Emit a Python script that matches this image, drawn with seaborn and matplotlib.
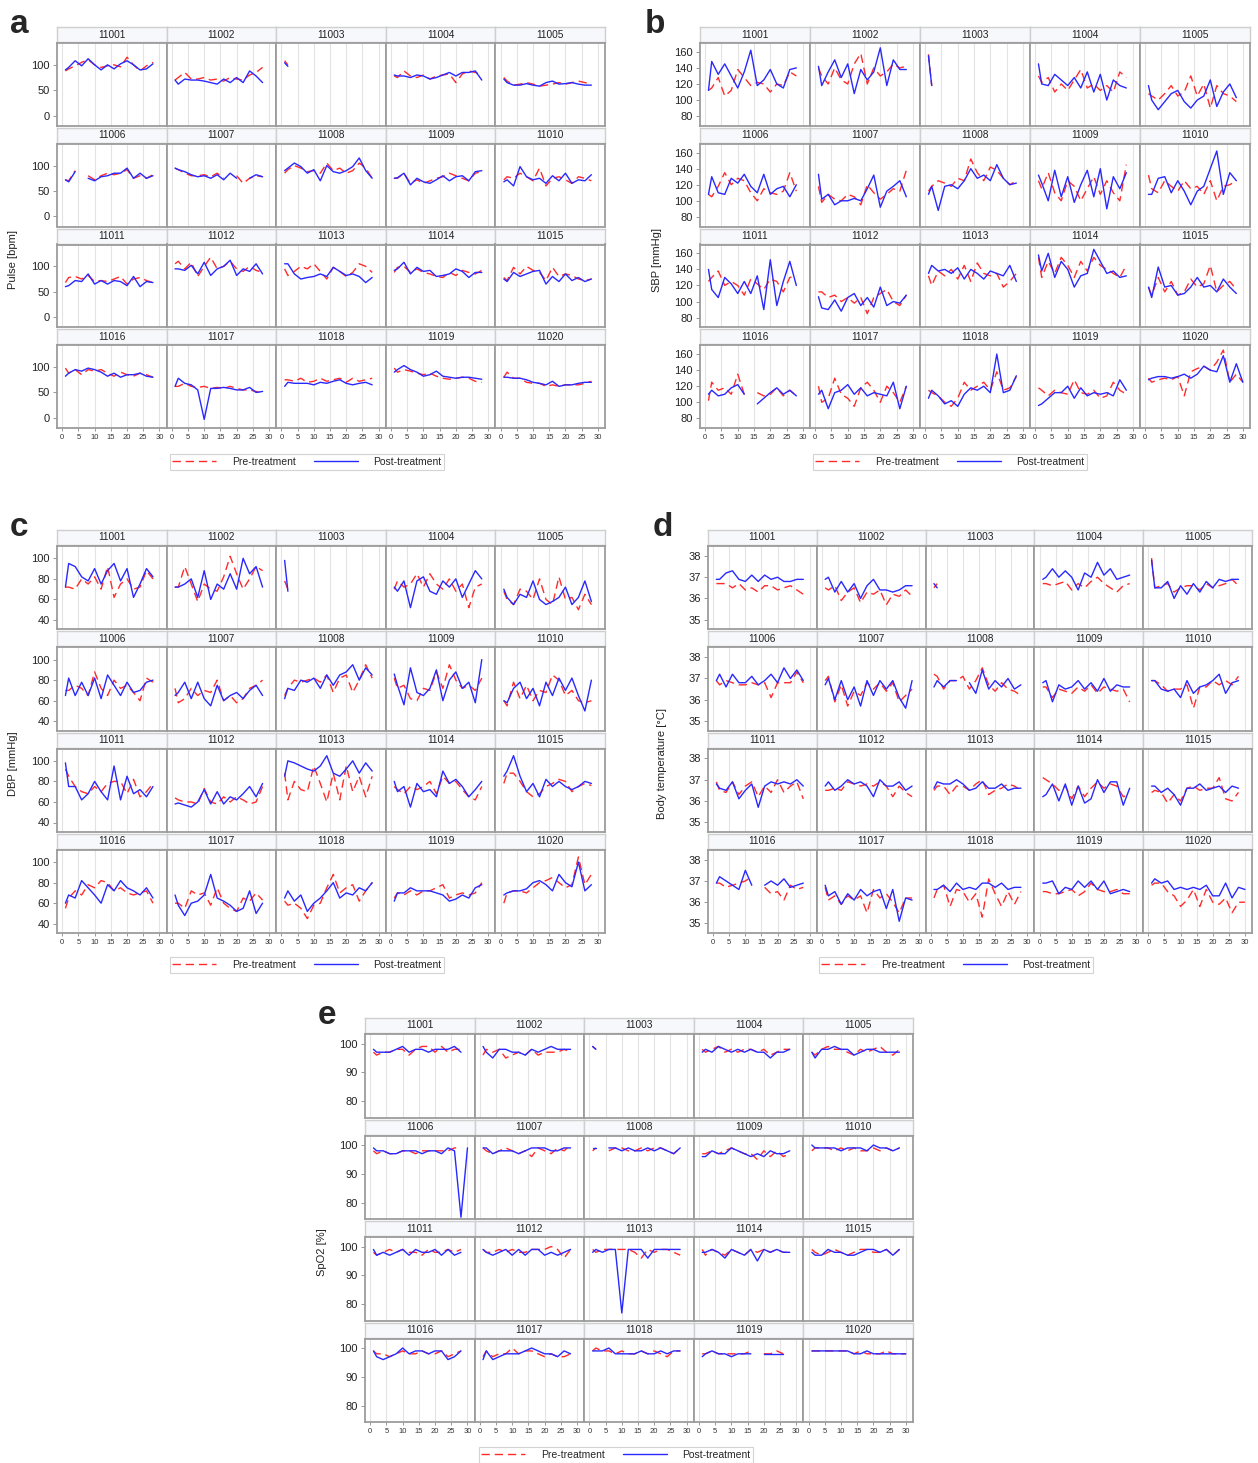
import matplotlib
matplotlib.use("Agg")
import numpy as np
import pandas as pd
import matplotlib.pyplot as plt
from matplotlib.lines import Line2D
import seaborn as sns

SUBJECTS = [str(s) for s in range(11001, 11021)]
# measurement days; a series uses the first len(values) of them
DAYS = [1, 2, 4, 6, 8, 10, 12, 14, 16, 18, 20, 22, 24, 26, 28, 30]
N = None

pulse_pre = [
    [88, 92, 98, 105, 110, 100, 95, 98, 100, 96, 115, 100, 88, 98, 105],
    [70, 75, 85, 72, 72, 75, 70, 72, 68, 75, 72, 70, 80, 85, 95],
    [108, 100],
    [78, 75, 88, 78, 75, 80, 72, 78, 80, 82, 65, 82, 88, 85, 80],
    [75, 68, 60, 62, 65, 62, 58, 60, 62, 65, 62, 65, 68, 65, 62],
    [72, 70, 90, N, 80, 72, 80, 85, 82, 85, 92, 75, 80, 75, 82],
    [95, 92, 85, 80, 80, 82, 78, 85, 75, N, 80, 65, 75, 80, 78],
    [85, 92, 100, 95, 88, 90, 85, 105, 90, 95, 85, 90, 105, 95, 75],
    [75, 75, 85, 65, 72, 65, 70, 75, 78, 85, 80, 75, 70, 85, 88],
    [72, 78, 75, 85, 78, 70, 95, 60, 75, 78, 72, 65, 78, 75, 70],
    [68, 78, 80, 75, 82, 70, 72, 70, 75, 80, 65, 75, 78, 72, 68],
    [105, 110, 95, 108, 80, 100, 118, 95, 100, 110, 95, 90, 100, 92, 88],
    [95, 82, 90, 100, 95, 105, 90, 75, 98, 90, 80, 88, 105, 100, 88],
    [88, 98, 100, 88, 95, 88, 85, 80, 78, 88, 82, 92, 88, 85, 92],
    [78, 72, 98, 85, 100, 92, 88, 72, 98, 80, 85, 82, 75, 72, 75],
    [98, 88, 95, 85, 95, 92, 95, 88, 82, 90, 85, 82, 88, 85, 80],
    [62, 62, 68, 62, 60, 62, 58, 60, 58, 62, 58, 55, 55, 52, 48],
    [75, 75, 72, 78, 70, 72, 78, 72, 75, 78, 70, 78, 72, 75, 78],
    [98, 90, 95, 92, 88, 85, 88, 82, 78, 76, 78, 80, 78, 72, 70],
    [80, 90, 78, 78, 70, 68, 68, 62, 65, 62, 65, 65, 65, 68, 72],
]
pulse_post = [
    [90, 95, 108, 98, 112, 100, 90, 100, 92, 102, 108, 100, 90, 92, 102],
    [70, 62, 72, 70, 70, 68, 65, 62, 72, 65, 75, 65, 88, 78, 65],
    [104, 97],
    [80, 78, 78, 75, 80, 78, 72, 75, 80, 85, 78, 85, 85, 88, 70],
    [72, 65, 60, 60, 63, 60, 58, 65, 68, 62, 63, 65, 62, 60, 60],
    [72, 68, 88, N, 75, 70, 78, 80, 85, 85, 95, 75, 85, 75, 80],
    [95, 92, 88, 82, 78, 80, 75, 82, 72, 85, 75, N, 75, 82, 78],
    [90, 95, 105, 98, 85, 92, 70, 100, 88, 85, 90, 98, 115, 90, 75],
    [75, 76, 85, 62, 75, 68, 65, 72, 80, 70, 78, 80, 70, 88, 90],
    [68, 72, 60, 98, 78, 72, 75, 65, 80, 70, 85, 65, 72, 70, 82],
    [60, 62, 72, 70, 85, 65, 72, 65, 72, 70, 62, 80, 60, 70, 68],
    [95, 95, 92, 102, 85, 108, 82, 95, 100, 112, 82, 95, 90, 105, 85],
    [105, 105, 85, 75, 78, 80, 85, 80, 98, 90, 82, 85, 80, 68, 78],
    [92, 95, 108, 85, 98, 90, 92, 80, 82, 85, 95, 90, 78, 88, 88],
    [75, 70, 88, 80, 85, 90, 92, 65, 80, 70, 85, 72, 78, 70, 75],
    [82, 88, 95, 92, 98, 95, 90, 82, 88, 80, 85, 85, 88, 82, 80],
    [62, 78, 68, 65, 55, -3, 58, 58, 60, 58, 55, 55, 60, 50, 52],
    [62, 70, 68, 68, 68, 65, 70, 68, 72, 75, 68, 65, 68, 70, 65],
    [90, 95, 103, 95, 90, 82, 85, 92, 82, 80, 78, 80, 80, 78, 76],
    [80, 80, 78, 78, 75, 70, 68, 65, 72, 62, 65, 65, 68, 70, 70],
]

sbp_pre = [
    [112, 115, 128, 105, 112, 138, 128, 118, 122, 120, 110, 120, 118, 135, 130],
    [140, 130, 120, 140, 125, 120, 145, 158, 120, 140, 130, 135, 145, 140, 142],
    [157, 118],
    [130, 122, 128, 110, 120, 112, 125, 138, 115, 120, 112, 118, 110, 135, 128],
    [108, 105, 100, 108, 118, 105, 110, 130, 105, 120, 90, 118, 108, 105, 98],
    [108, 105, 118, 135, 120, 128, 125, 110, 100, 115, 110, 108, 112, 135, 112],
    [118, 98, 108, 102, 100, 108, 105, 95, 120, 110, 102, 108, 115, 112, 138],
    [112, 118, 125, 122, 118, 128, 125, 152, 135, 125, 142, 138, 128, 120, 125],
    [125, 115, 135, 110, 100, 125, 118, 100, 115, 130, 108, 125, 110, 100, 145],
    [132, 115, 110, 125, 118, 112, 125, 115, 118, 108, 125, 100, 118, 120, 125],
    [125, 130, 138, 120, 125, 120, 108, 128, 122, 115, 128, 125, 112, 130, 132],
    [112, 112, 105, 108, 100, 105, 98, 105, 85, 105, 110, 115, 100, 95, 108],
    [132, 120, 138, 132, 140, 128, 145, 125, 148, 135, 132, 135, 118, 125, 135],
    [155, 130, 150, 135, 155, 145, 130, 150, 138, 155, 145, 140, 135, 130, 145],
    [118, 108, 130, 112, 125, 108, 112, 128, 118, 122, 145, 112, 120, 125, 115],
    [102, 125, 115, 118, 110, 135, 110, N, 112, 108, 110, 118, 108, 115, 108],
    [120, 100, 105, 130, 110, 105, 95, 118, 125, 115, 100, 120, 112, 100, 120],
    [115, 112, 108, 100, 95, 105, 125, 115, 120, 125, 115, 138, 115, 118, 132],
    [118, 115, 108, 115, 112, 110, 128, 112, 110, 115, 105, 108, 125, 115, 110],
    [130, 125, 128, 130, 128, 132, 108, 138, 142, 145, 140, 150, 165, 125, 135, 125],
]
sbp_post = [
    [112, 148, 132, 145, 130, 115, 135, 162, 118, 125, 138, 120, 115, 138, 140],
    [142, 118, 135, 150, 128, 145, 108, 138, 125, 135, 165, 118, 150, 138, 138],
    [155, 118],
    [145, 120, 118, 132, 125, 118, 128, 115, 135, 110, 132, 100, 125, 118, 115],
    [118, 100, 88, 98, 108, 112, 98, 90, 100, 105, 125, 92, 110, 120, 103],
    [108, 130, 110, 108, 128, 122, 133, 118, 110, 133, 108, 115, 118, 105, 120],
    [133, 102, 108, 95, 100, 100, 103, 100, 115, 132, 92, 112, 118, 125, 105],
    [108, 118, 88, 118, 120, 115, 125, 140, 128, 132, 125, 145, 128, 120, 122],
    [132, 122, 100, 138, 105, 130, 98, 120, 138, 105, 140, 90, 130, 115, 135],
    [108, 108, 128, 130, 110, 125, 112, 95, 112, 118, 140, 162, 108, 135, 125],
    [140, 115, 105, 130, 122, 110, 125, 110, 132, 90, 152, 95, 125, 150, 120],
    [106, 92, 90, 102, 88, 105, 110, 95, 105, 93, 118, 95, 100, 98, 108],
    [135, 145, 138, 140, 135, 142, 128, 140, 135, 128, 138, 135, 132, 145, 125],
    [158, 138, 160, 130, 150, 140, 118, 132, 135, 165, 150, 135, 138, 130, 132],
    [118, 105, 143, 118, 120, 108, 110, 118, 130, 118, 120, 112, 128, 118, 110],
    [110, 115, 108, 110, 118, 122, 110, N, 98, 105, 112, 118, 110, 115, 108],
    [110, 115, 92, 112, 115, 122, 110, 118, 108, 112, 110, 108, 125, 92, 120],
    [105, 115, 108, 98, 102, 95, 110, 118, 115, 120, 112, 160, 112, 115, 133],
    [96, 98, 105, 112, 112, 120, 105, 118, 108, 112, 110, 112, 108, 128, 115],
    [128, 130, 132, 132, 130, 132, 135, 130, 135, 145, 140, 138, 158, 125, 148, 125],
]

dbp_pre = [
    [72, 72, 70, 80, 75, 82, 70, 92, 62, 75, 80, 70, 72, 88, 80],
    [72, 72, 92, 75, 58, 75, 70, 68, 82, 102, 85, 70, 80, 92, 88],
    [78, 70],
    [70, 78, 72, 75, 85, 72, 85, 75, 70, 80, 68, 75, 52, 72, 75],
    [68, 60, 55, 70, 68, 60, 80, 60, 55, 82, 60, 62, 50, 65, 55],
    [70, 70, 75, 72, 65, 88, 72, 65, 80, 72, 75, 68, 60, 82, 78],
    [72, 58, 62, 72, 65, 70, 68, 80, 60, 65, 58, 62, 72, 75, 80],
    [65, 72, 80, 78, 80, 82, 78, 85, 68, 82, 85, 68, 80, 95, 82],
    [82, 72, 75, 62, 60, 72, 70, 88, 72, 95, 80, 72, 75, 70, 82],
    [60, 55, 78, 62, 75, 60, 70, 68, 85, 80, 65, 70, 60, 58, 60],
    [92, 85, 75, 70, 68, 75, 70, 78, 80, 80, 68, 82, 65, 70, 78],
    [64, 62, 60, 60, 58, 73, 60, 58, 65, 60, 65, 62, 58, 60, 75],
    [88, 62, 80, 72, 70, 95, 78, 60, 88, 62, 95, 70, 85, 65, 85],
    [75, 72, 68, 75, 72, 75, 80, 68, 85, 78, 80, 72, 65, 62, 75],
    [78, 88, 88, 80, 70, 65, 68, 75, 78, 82, 80, 70, 75, 78, 76],
    [55, 65, 72, 68, 78, 75, 82, 80, 72, 75, 70, 68, 70, 72, 60],
    [60, 60, 55, 72, 68, 70, 58, 75, 60, 55, 52, 65, 62, 70, 63],
    [62, 58, 60, 55, 45, 58, 60, 75, 88, 70, 75, 78, 62, 72, 80],
    [65, 70, 68, 72, 68, 72, 72, 75, 78, 65, 68, 70, 68, 70, 80],
    [60, 70, 72, 72, 70, 75, 80, 82, 85, 80, 75, 78, 105, 78, 88],
]
dbp_post = [
    [72, 95, 92, 82, 78, 90, 75, 88, 95, 78, 90, 62, 75, 90, 82],
    [72, 72, 75, 80, 62, 88, 60, 75, 70, 85, 70, 100, 85, 92, 72],
    [98, 68],
    [72, 68, 78, 52, 78, 82, 68, 65, 78, 72, 80, 62, 75, 88, 80],
    [70, 62, 55, 65, 62, 78, 60, 55, 58, 62, 72, 55, 62, 78, 58],
    [65, 82, 65, 78, 65, 82, 62, 85, 75, 65, 78, 68, 70, 78, 80],
    [65, 68, 78, 62, 78, 62, 55, 75, 60, 65, 68, 62, 70, 75, 65],
    [62, 72, 70, 80, 78, 82, 72, 85, 75, 85, 88, 95, 80, 92, 85],
    [86, 75, 56, 92, 68, 65, 72, 90, 60, 80, 88, 72, 78, 58, 100],
    [60, 58, 72, 78, 62, 72, 55, 78, 65, 82, 70, 82, 65, 50, 80],
    [98, 75, 75, 62, 68, 80, 70, 62, 95, 62, 85, 68, 72, 65, 75],
    [58, 59, 57, 55, 60, 72, 58, 70, 58, 65, 62, 68, 75, 65, 78],
    [85, 100, 98, 95, 92, 90, 95, 105, 88, 85, 92, 100, 88, 98, 90],
    [80, 70, 75, 55, 78, 70, 72, 65, 90, 78, 82, 75, 65, 72, 80],
    [85, 90, 105, 85, 70, 78, 65, 82, 75, 80, 75, 72, 75, 80, 78],
    [60, 68, 65, 82, 75, 68, 60, 78, 72, 82, 75, 72, 68, 75, 65],
    [68, 58, 48, 60, 62, 68, 88, 65, 62, 58, 52, 55, 72, 50, 60],
    [65, 72, 62, 68, 52, 60, 65, 72, 80, 65, 70, 68, 75, 72, 80],
    [62, 70, 70, 75, 72, 72, 72, 70, 68, 62, 64, 68, 65, 75, 78],
    [68, 70, 72, 72, 74, 80, 82, 78, 72, 88, 80, 76, 100, 72, 78],
]

temp_pre = [
    [36.7, 36.7, 36.7, 36.5, 36.7, 36.4, 36.5, 36.3, 36.6, 36.6, 36.4, 36.5, 36.6, 36.4, 36.2],
    [36.5, 36.4, 36.6, 35.9, 36.3, 36.5, 35.8, 36.3, 36.2, 36.4, 35.7, 36.2, 36.1, 36.4, 36.1],
    [36.5, 36.7],
    [36.7, 36.7, 36.6, 36.7, 36.8, 36.4, 36.7, 36.5, 36.8, 37.0, 36.7, 36.5, 36.3, 36.6, 36.7],
    [37.9, 36.5, 36.6, 36.7, 36.3, 36.5, 36.6, 36.6, 36.4, 36.7, 36.5, 36.6, 36.7, 36.9, 36.6],
    [36.9, 36.7, 36.9, 36.8, 36.7, 36.7, 36.8, 36.7, 36.8, 36.1, 36.8, 36.8, 36.8, 37.3, 36.8],
    [36.9, 37.1, 35.9, 36.7, 35.7, 36.4, 36.2, 36.8, 36.5, 36.8, 36.4, 36.8, 35.9, 36.2, 36.5],
    [37.2, 37.1, 36.5, 36.9, 36.9, 37.1, 36.5, 36.9, 37.5, 36.7, 36.4, 36.8, 36.5, 36.4, 36.2],
    [36.6, 36.6, 36.1, 36.5, 36.4, 36.3, 36.6, 36.4, 36.7, 36.3, 36.6, 36.5, 36.4, 36.5, 35.9],
    [36.9, 36.9, 36.7, 36.4, 36.5, 36.5, 36.7, 35.6, 36.6, 36.6, 36.9, 36.7, 36.9, 36.7, 37.1],
    [36.9, 36.5, 36.4, 36.9, 36.3, 36.7, 36.9, 36.2, 36.7, 36.4, 37.0, 36.4, 36.7, 36.9, 36.1],
    [36.5, 36.5, 36.6, 36.5, 36.9, 36.8, 36.7, 36.8, 36.7, 36.9, 36.7, 36.2, 36.7, 36.4, 36.2],
    [36.5, 36.7, 36.7, 36.3, 36.7, 36.7, 36.5, 36.8, 37.0, 36.3, 36.5, 36.6, 36.8, 36.7, 36.5],
    [37.1, 37.0, 36.8, 36.5, 36.7, 36.1, 36.7, 36.2, 36.6, 36.9, 36.6, 36.8, 36.7, 36.2, 36.3],
    [36.4, 36.5, 36.4, 35.9, 36.3, 36.0, 36.6, 36.7, 36.5, 36.6, 36.6, 37.1, 36.1, 36.0, 36.4],
    [36.9, 36.9, 36.7, 36.8, 36.9, 37.0, 37.2, N, 36.7, 36.4, 36.5, 36.1, 36.8, 36.6, 36.7],
    [36.7, 36.1, 36.3, 35.9, 36.3, 36.1, 36.3, 35.5, 36.6, 36.2, 36.4, 36.0, 35.5, 36.2, 36.2],
    [36.2, 36.6, 36.8, 35.8, 36.6, 36.5, 36.0, 36.4, 35.3, 37.1, 36.4, 35.8, 36.5, 35.9, 36.5],
    [36.5, 36.5, 36.4, 36.4, 36.5, 36.6, 36.3, 36.5, 36.9, 36.6, 36.5, 36.5, 36.6, 36.4, 36.4],
    [36.8, 36.9, 36.9, 36.5, 36.3, 35.8, 36.1, 36.6, 35.8, 36.6, 36.0, 35.9, 36.2, 35.5, 36.0, 36.0],
]
temp_post = [
    [36.9, 36.9, 37.2, 37.3, 36.9, 36.8, 37.1, 36.8, 37.1, 36.9, 37.0, 36.8, 36.8, 36.9, 36.9],
    [36.9, 37.0, 36.3, 36.8, 36.3, 36.7, 36.0, 36.6, 36.9, 36.4, 36.4, 36.3, 36.4, 36.6, 36.6],
    [36.7, 36.5],
    [36.9, 37.0, 37.4, 37.0, 37.3, 37.0, 36.4, 37.2, 37.0, 37.7, 37.1, 37.4, 36.9, 37.0, 37.1],
    [37.8, 36.5, 36.5, 36.8, 36.0, 36.6, 36.2, 36.7, 36.3, 36.8, 36.5, 36.9, 36.8, 36.9, 36.9],
    [36.9, 37.2, 36.6, 37.2, 36.8, 36.8, 37.1, 36.7, 36.9, 37.2, 36.8, 37.5, 37.0, 37.4, 36.9],
    [36.7, 37.0, 36.0, 36.9, 36.0, 36.6, 35.7, 36.9, 36.2, 36.9, 36.5, 36.9, 36.1, 35.6, 36.9],
    [36.6, 36.9, 36.6, 36.9, 36.9, N, 36.8, 36.3, 37.4, 36.5, 36.9, 36.6, 37.0, 36.5, 36.7],
    [36.8, 36.9, 35.9, 36.7, 36.5, 36.6, 36.9, 36.5, 36.8, 36.4, 37.0, 36.4, 36.7, 36.6, 36.6],
    [36.9, 36.9, 36.5, 36.4, 36.5, 36.1, 36.9, 36.3, 36.6, 36.7, 36.9, 37.2, 36.3, 36.8, 36.9],
    [36.8, 36.6, 36.5, 36.9, 36.1, 36.5, 36.8, 35.7, 36.7, 36.9, 36.8, 36.9, 36.8, 37.0, 36.7],
    [36.7, 36.9, 36.5, 36.7, 37.0, 36.8, 36.9, 36.7, 36.2, 37.0, 36.7, 36.7, 36.9, 36.5, 36.7],
    [36.6, 36.9, 36.8, 36.8, 37.0, 36.8, 36.5, 36.6, 36.9, 36.6, 36.6, 36.8, 36.5, 36.6, 36.6],
    [36.2, 36.3, 36.8, 36.0, 36.8, 35.8, 36.7, 35.9, 36.1, 37.0, 36.4, 36.9, 36.9, 35.8, 36.6],
    [36.7, 36.7, 36.4, 36.6, 36.3, 35.8, 36.6, 36.6, 36.8, 36.5, 36.6, 36.7, 36.4, 36.7, 36.6],
    [36.9, 37.2, 37.0, 36.8, 36.6, 37.5, 36.8, N, 36.8, 37.0, 36.8, 37.1, 36.7, 36.8, 36.9],
    [36.8, 36.3, 36.5, 35.9, 36.4, 36.1, 36.6, 36.3, 36.5, 36.6, 35.7, 36.6, 35.1, 36.2, 36.1],
    [36.6, 36.6, 36.8, 36.5, 36.9, 36.6, 36.7, 36.6, 36.9, 36.9, 36.7, 36.9, 36.6, 36.7, 36.7],
    [36.9, 36.9, 37.0, 36.4, 36.7, 36.6, 37.0, 36.7, 37.0, 36.6, 37.0, 36.4, 36.5, 36.6, 36.5],
    [36.9, 37.1, 36.9, 37.0, 36.6, 36.7, 36.6, 36.7, 36.6, 36.8, 36.3, 36.3, 36.9, 36.2, 36.7, 36.6],
]

spo2_pre = [
    [97, 96, 97, 97, 98, 98, 96, 98, 99, 99, 97, 99, 97, 98, 98],
    [96, 98, 97, 98, 95, 96, 97, 96, 98, 96, 97, 97, 97, 98, 97],
    [99, 98],
    [98, 97, 98, 99, 97, 98, 97, 98, 98, 97, 98, 96, 97, 98, 98],
    [97, 96, 98, 99, 98, 98, 97, 96, 98, 97, 98, 99, 97, 96, 98],
    [98, 97, 98, 97, 97, 98, 98, 97, 98, 98, 98, 98, 98, 99, 99],
    [99, 98, 97, 98, 99, 98, 97, 98, 96, 99, 98, 97, 99, 98, 100],
    [98, 99, N, 98, 99, 99, 98, 98, 99, 98, 99, 99, 98, 97, 99],
    [97, 97, 98, 97, 98, 99, 98, 97, 97, 95, 98, 96, 98, 96, 97],
    [98, 99, 99, 99, 98, 99, 98, 99, 98, 98, 99, 98, 99, 98, 99],
    [98, 97, 98, 99, 98, 99, 98, 98, 97, 99, 98, 98, 99, 98, 99],
    [99, 98, 98, 99, 98, 99, 98, 98, 99, 99, 99, 100, 99, 96, 99],
    [99, 98, 99, 99, 99, 99, 99, 98, 96, 99, 98, 99, 99, 98, 97],
    [99, 97, 99, 98, 97, 99, 98, 97, 99, 98, 99, 98, 99, 98, 98],
    [99, 98, 97, 98, 99, 98, 97, 98, 99, 99, 98, 98, 99, 97, 99],
    [99, 98, 98, 97, 98, 99, 98, 98, 99, 98, 98, 99, 97, 98, 99],
    [97, 99, 97, 98, 98, 100, 98, 99, 99, 98, 97, 98, 97, 97, 98],
    [99, 100, 99, 99, 98, 99, 98, 98, 99, 98, 99, 98, 97, 99, 99],
    [98, 98, 99, 98, 98, 98, 98, 98, 99, N, 98, 98, 99, 98],
    [99, 99, 99, 99, 99, 99, 99, 98, 99, 98, 98, 98, 99, 98, 98, 98],
]
spo2_post = [
    [98, 97, 97, 97, 98, 99, 97, 98, 98, 97, 98, 98, 98, 99, 97],
    [99, 97, 95, 98, 98, 97, 97, 96, 98, 97, 98, 99, 98, 98, 98],
    [99, 98],
    [97, 98, 97, 99, 98, 97, 98, 97, 98, 97, 97, 95, 97, 97, 98],
    [97, 95, 98, 98, 99, 98, 98, 96, 97, 98, 98, 97, 97, 97, 97],
    [99, 98, 98, 97, 97, 98, 98, 98, 97, 98, 98, 97, 99, 98, 75, 99],
    [99, 99, 97, 98, 98, 98, 97, 98, 99, 99, 99, 98, 98, 99, 99],
    [99, 99, N, 99, 99, 98, 99, 98, 98, 99, 98, 99, 98, 97, 99],
    [96, 96, 98, 97, 97, 99, 98, 97, 96, 97, 96, 98, 97, 97, 98],
    [100, 99, 99, 99, 99, 98, 99, 99, 99, 98, 100, 99, 99, 98, 99],
    [99, 97, 98, 97, 98, 99, 97, 99, 98, 98, 99, 97, 99, 97, 98],
    [99, 98, 97, 98, 99, 97, 99, 97, 99, 99, 97, 98, 97, 98, 99],
    [98, 99, 98, 99, 99, 77, 99, 99, 99, 96, 99, 99, 99, 99, 99],
    [98, 98, 99, 98, 96, 99, 98, 97, 99, 95, 99, 98, 99, 98, 98],
    [98, 97, 97, 99, 98, 98, 97, 97, 98, 99, 99, 98, 99, 97, 99],
    [99, 97, 96, 97, 98, 100, 98, 99, 99, 98, 99, 99, 96, 97, 99],
    [96, 99, 96, 97, 98, 98, 98, 99, 100, 99, 98, 98, 97, 99, 98],
    [99, 99, 99, 100, 98, 98, 98, 98, 99, 98, 98, 99, 98, 99, 99],
    [97, 98, 99, 98, 98, 97, 98, 98, 98, N, 98, 98, 98, 98],
    [99, 99, 99, 99, 99, 99, 99, 98, 98, 99, 98, 98, 98, 98, 98, 98],
]

W, H = 1258, 1463
PRE_COLOR = "#ff2b2b"
POST_COLOR = "#2828ff"
PRE_DASH = (0, (6, 3.5))

sns.set_style("white")
plt.rcParams["font.family"] = ["Liberation Sans", "DejaVu Sans"]

fig = plt.figure(figsize=(W / 100, H / 100), dpi=100)


def fx(x):
    return x / W


def fy(y):
    return 1 - y / H


def to_frame(vals):
    df = pd.DataFrame({"day": DAYS[:len(vals)],
                       "value": pd.Series(vals, dtype=float)})
    df["seg"] = df["value"].isna().cumsum()
    return df.dropna()


def draw_panel(letter, pre, post, ylabel, yticks, ylim,
               left, right, top, bottom, ylab_x, legend_x, legend_y):
    col_w = (right - left) / 5
    gap, strip_h = 2, 15
    row_h = (bottom - top + gap) / 4
    for i, sid in enumerate(SUBJECTS):
        r, c = divmod(i, 5)
        x0 = left + c * col_w
        y0 = top + r * row_h
        sax = fig.add_axes([fx(x0), fy(y0 + strip_h), col_w / W, strip_h / H])
        sax.set_facecolor("#f7f8fb")
        sax.set_xticks([])
        sax.set_yticks([])
        for sp in sax.spines.values():
            sp.set_color("#cfcfcf")
            sp.set_linewidth(1.0)
        sax.text(0.5, 0.5, sid, ha="center", va="center", fontsize=7.3, color="#222222",
                 transform=sax.transAxes)

        ph = row_h - gap - strip_h - 1
        ax = fig.add_axes([fx(x0), fy(y0 + strip_h + 1 + ph), col_w / W, ph / H])
        for vals, color, ls in ((pre[i], PRE_COLOR, PRE_DASH), (post[i], POST_COLOR, "-")):
            d = to_frame(vals)
            sns.lineplot(data=d, x="day", y="value", units="seg", estimator=None,
                         color=color, linestyle=ls, linewidth=1.0, ax=ax, legend=False)
        ax.set_xlim(-1.6, 32.2)
        ax.set_ylim(*ylim)
        ax.set_xticks(range(0, 31, 5))
        ax.set_yticks(yticks)
        ax.grid(axis="x", color="#e3e3e3", linewidth=0.8)
        ax.set_axisbelow(True)
        ax.set_xlabel("")
        ax.set_ylabel("")
        for sp in ax.spines.values():
            sp.set_color("#9c9c9c")
            sp.set_linewidth(1.3)
        bottom_row = r == 3
        left_col = c == 0
        ax.tick_params(axis="x", bottom=bottom_row, labelbottom=bottom_row,
                       labelsize=5.5, length=2.5, width=0.6, color="#888888",
                       labelcolor="#333333", pad=2)
        ax.tick_params(axis="y", left=left_col, labelleft=left_col,
                       labelsize=8, length=3, width=0.6, color="#888888",
                       labelcolor="#222222", pad=2)

    fig.text(fx(ylab_x), fy((top + bottom) / 2 + 32), ylabel, rotation=90,
             ha="center", va="center", fontsize=8, color="#222222")
    fig.text(fx(left - 47 if left < 400 else left - 55), fy(top + 6), letter,
             fontsize=24, fontweight="bold", ha="left", va="baseline")
    handles = [Line2D([], [], color=PRE_COLOR, linestyle=PRE_DASH, linewidth=1.0),
               Line2D([], [], color=POST_COLOR, linewidth=1.0)]
    leg = fig.legend(handles, ["Pre-treatment", "Post-treatment"], loc="center",
                     bbox_to_anchor=(fx(legend_x), fy(legend_y)), ncol=2, fontsize=7.5,
                     frameon=True, fancybox=False, edgecolor="#c8c8c8",
                     handlelength=4.2, columnspacing=1.8, borderpad=0.25,
                     handletextpad=1.5)
    leg.get_frame().set_linewidth(0.8)


draw_panel("a", pulse_pre, pulse_post, "Pulse [bpm]", [0, 50, 100], (-20, 143),
           57, 605, 27, 428, 13, 307, 462)
draw_panel("b", sbp_pre, sbp_post, "SBP [mmHg]", [80, 100, 120, 140, 160], (68, 171),
           700, 1250, 27, 428, 657, 950, 462)
draw_panel("c", dbp_pre, dbp_post, "DBP [mmHg]", [40, 60, 80, 100], (31, 112),
           57, 605, 530, 933, 13, 307, 965)
draw_panel("d", temp_pre, temp_post, "Body temperature [°C]", [35, 36, 37, 38], (34.55, 38.47),
           708, 1252, 530, 933, 662, 956, 965)
draw_panel("e", spo2_pre, spo2_post, "SpO2 [%]", [80, 90, 100], (74.4, 103.3),
           365, 913, 1018, 1422, 322, 616, 1455)

fig.savefig("out.png", dpi=100, facecolor="white")
